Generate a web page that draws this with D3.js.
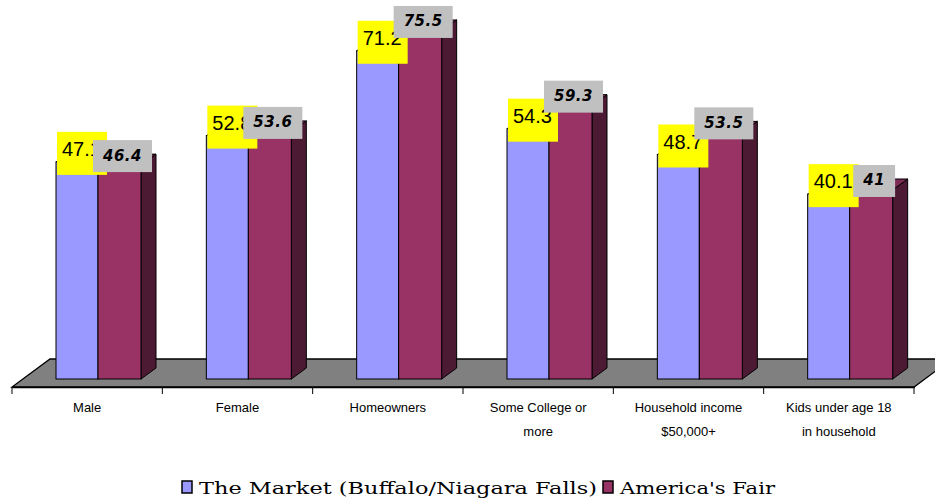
<!DOCTYPE html>
<html>
<head>
<meta charset="utf-8">
<script src="https://cdn.jsdelivr.net/npm/d3@7"></script>
<style>
  body { margin: 0; background: #fff; }
  svg { display: block; }
</style>
</head>
<body>
<div id="chart"></div>
<script>
// data
const categories = ["Male", "Female", "Homeowners", "Some College or more", "Household income $50,000+", "Kids under age 18 in household"];
const categoryLines = [["Male"], ["Female"], ["Homeowners"], ["Some College or", "more"], ["Household income", "$50,000+"], ["Kids under age 18", "in household"]];
const marketValues = [47.1, 52.8, 71.2, 54.3, 48.7, 40.1];
const fairValues = [46.4, 53.6, 75.5, 59.3, 53.5, 41];
const seriesNames = ["The Market (Buffalo/Niagara Falls)", "America's Fair"];
const labelText = [marketValues.map(String), fairValues.map(String)];

var width = 935, height = 499;
var colors = { blue: "#9999ff", blueTop: "#7b7bd6", maroon: "#993366", maroonTop: "#7d2a55", side: "#4d1a33", floor: "#808080" };

var svg = d3.select("#chart").append("svg")
    .attr("width", width)
    .attr("height", height);

// x band for each category along the front edge of the floor
var x = d3.scaleBand()
    .domain(categories)
    .range([12, 914]);

var y = d3.scaleLinear()
    .domain([0, 100])
    .range([379, -82]);

var depthX = 15, depthY = -11;   // bar depth
var floorDX = 38, floorDY = -28; // floor depth
var floorY = 387;

// floor
svg.append("path")
    .attr("d", "M" + x.range()[0] + "," + floorY +
        " L" + x.range()[1] + "," + floorY +
        " L" + (x.range()[1] + floorDX) + "," + (floorY + floorDY) +
        " L" + (x.range()[0] + floorDX) + "," + (floorY + floorDY) + " Z")
    .attr("fill", colors.floor)
    .attr("stroke", "#000")
    .attr("stroke-width", 1.3);

// category axis with ticks
var axis = d3.axisBottom(x).tickSize(0).tickFormat("");
svg.append("g")
    .attr("transform", "translate(0," + floorY + ")")
    .call(axis)
    .call(g => g.select(".domain").attr("stroke", "#000").attr("stroke-width", 1.3));

var tickPos = categories.map(c => x(c)).concat([x.range()[1]]);
svg.append("g").selectAll("line")
    .data(tickPos)
    .enter()
    .append("line")
    .attr("x1", d => d).attr("x2", d => d)
    .attr("y1", floorY).attr("y2", floorY + 7)
    .attr("stroke", "#000");

// category labels
categories.forEach(function (c, i) {
    var t = svg.append("text")
        .attr("x", x(c) + x.bandwidth() / 2)
        .attr("y", 412)
        .attr("text-anchor", "middle")
        .style("font-family", "Liberation Sans, Arial, sans-serif")
        .style("font-size", "13px")
        .attr("fill", "#000");
    categoryLines[i].forEach(function (line, j) {
        t.append("tspan")
            .attr("x", x(c) + x.bandwidth() / 2)
            .attr("dy", j === 0 ? 0 : 24)
            .text(line);
    });
});

function drawBar(g, left, w, value, front, top, withSide) {
    var yt = y(value), yb = y(0);
    if (withSide) {
        g.append("path")
            .attr("d", "M" + (left + w) + "," + yt + " L" + (left + w + depthX) + "," + (yt + depthY) +
                " L" + (left + w + depthX) + "," + (yb + depthY) + " L" + (left + w) + "," + yb + " Z")
            .attr("fill", colors.side)
            .attr("stroke", "#000").attr("stroke-width", 1);
    }
    g.append("path")
        .attr("d", "M" + left + "," + yt + " L" + (left + w) + "," + yt +
            " L" + (left + w + depthX) + "," + (yt + depthY) + " L" + (left + depthX) + "," + (yt + depthY) + " Z")
        .attr("fill", top)
        .attr("stroke", "#000").attr("stroke-width", 1);
    g.append("rect")
        .attr("x", left)
        .attr("y", yt)
        .attr("width", w)
        .attr("height", yb - yt)
        .attr("fill", front)
        .attr("stroke", "#000").attr("stroke-width", 1);
}

var bars = svg.append("g");
categories.forEach(function (c, i) {
    var b = x(c);
    var g = bars.append("g");
    drawBar(g, b + 44, 42, marketValues[i], colors.blue, colors.blueTop, true);
    drawBar(g, b + 86, 43, fairValues[i], colors.maroon, colors.maroonTop, true);
});

// data labels
var labels = svg.append("g");
categories.forEach(function (c, i) {
    var b = x(c);
    // yellow label for the market
    var cx = b + 44 + 21 + 5;
    var cy = y(marketValues[i]) - 9;
    labels.append("rect")
        .attr("x", cx - 25).attr("y", cy - 21)
        .attr("width", 50).attr("height", 43)
        .attr("fill", "#ffff00");
    labels.append("text")
        .attr("x", cx - 20).attr("y", cy - 2)
        .attr("dominant-baseline", "middle")
        .style("font-family", "Liberation Sans, Arial, sans-serif")
        .style("font-size", "20px")
        .attr("fill", "#000")
        .text(labelText[0][i]);

    // gray label for America's Fair
    var gx = b + 86 + 21.5 + 3;
    var gy = y(fairValues[i]) - 9;
    var gt = labels.append("text")
        .attr("x", gx).attr("y", gy)
        .attr("text-anchor", "middle")
        .attr("dominant-baseline", "middle")
        .style("font-family", "DejaVu Sans, sans-serif")
        .style("font-size", "15px")
        .style("font-weight", "bold")
        .style("font-style", "italic")
        .style("letter-spacing", "0.5px")
        .attr("fill", "#000")
        .text(labelText[1][i]);
    var bw = gt.node().getComputedTextLength() + 20;
    labels.insert("rect", function () { return gt.node(); })
        .attr("x", gx - bw / 2).attr("y", gy - 16)
        .attr("width", bw).attr("height", 32)
        .attr("fill", "#c0c0c0");
});

// legend
var legend = svg.append("g");
var legendItems = [
    { name: seriesNames[0], color: colors.blue, x: 182, len: 398 },
    { name: seriesNames[1], color: colors.maroon, x: 603, len: 155 }
];
legendItems.forEach(function (d) {
    legend.append("rect")
        .attr("x", d.x).attr("y", 481)
        .attr("width", 10).attr("height", 12)
        .attr("fill", d.color)
        .attr("stroke", "#000").attr("stroke-width", 1.5);
    legend.append("text")
        .attr("x", d.x + 17).attr("y", 494)
        .style("font-family", "DejaVu Serif, serif")
        .style("font-size", "17px")
        .attr("textLength", d.len)
        .attr("lengthAdjust", "spacingAndGlyphs")
        .attr("fill", "#000")
        .text(d.name);
});
</script>
</body>
</html>
